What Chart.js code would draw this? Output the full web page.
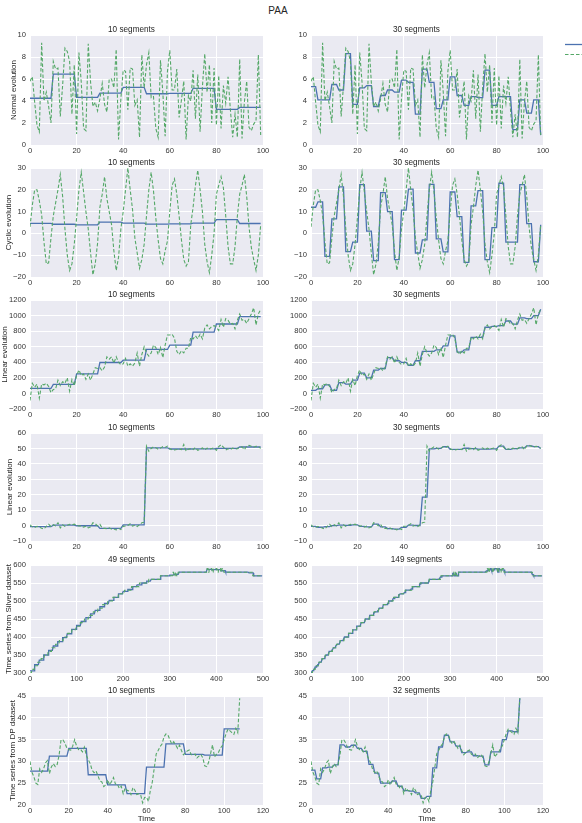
<!DOCTYPE html>
<html>
<head>
<meta charset="utf-8">
<script src="https://cdn.jsdelivr.net/npm/chart.js@4.4.1/dist/chart.umd.min.js"></script>
<style>
  body { margin: 0; background: #fff; width: 582px; height: 823px; position: relative; overflow: hidden; font-family: "Liberation Sans", Arial, sans-serif; }
  #title { position: absolute; left: 0; width: 556px; top: 4.5px; line-height: 12px; text-align: center; font-size: 10px; color: #262626; }
  canvas { position: absolute; }
</style>
</head>
<body>
<div id="title">PAA</div>
<script>
// raw series
const normalRaw = [
  5.8, 6.2, 3.9, 1.8, 1.2, 9.3, 4.0, 4.8, 3.5, 2.0,
  7.6, 6.9, 7.0, 2.6, 5.4, 8.8, 8.5, 7.6, 2.8, 7.3,
  1.0, 8.4, 5.7, 1.5, 1.3, 9.2, 5.7, 3.5, 3.9, 3.1,
  4.2, 5.6, 3.7, 3.0, 6.0, 6.0, 5.2, 8.7, 0.5, 4.2,
  6.8, 6.7, 3.2, 7.0, 6.9, 3.6, 4.1, 0.7, 8.2, 5.2,
  7.3, 8.4, 4.3, 4.4, 1.5, 0.7, 7.7, 4.8, 0.8, 6.7,
  8.6, 5.0, 5.0, 6.9, 2.5, 4.1, 5.8, 0.5, 4.5, 4.0,
  6.8, 2.4, 6.4, 1.2, 5.3, 8.3, 4.8, 7.3, 2.0, 7.0,
  1.8, 6.3, 1.5, 5.4, 3.8, 6.2, 3.2, 0.7, 2.8, 0.7,
  7.8, 0.6, 3.9, 5.8, 1.6, 1.3, 1.9, 2.2, 8.2, 0.9
];
const cyclicRaw = [
  3, 13, 20, 20, 15, 8.5, -4, -14, -13.5, -2,
  8, 14, 20, 27, 17, 2, -10, -17, -14, -5,
  7, 20, 28, 19, 10, 2, -9, -19, -14, -4.5,
  12, 18, 26, 16, 10, 4, -8, -17, -11, 2,
  10, 20, 30, 20, 11, -2, -9, -16, -12, -5,
  8, 20, 28, 19.5, 7, -3, -11.5, -14, -8, -3.5,
  10, 22, 25, 18, 8, -3, -12, -15, -13, 4,
  12, 22, 29, 20, 10, -5, -13, -18, -10, 0,
  18, 22, 26, 21, 8, -6, -14, -14, -6, 8,
  18, 22, 27, 17, 3, -6.5, -12, -17, -10, 4
];
const linearRaw = [
  -90, 130, 80, 120, -60, 120, 110, 130, 90, 10,
  50, 60, 170, 100, 150, 130, 200, 30, 180, 100,
  230, 300, 230, 250, 180, 250, 170, 250, 330, 320,
  330, 290, 340, 470, 440, 470, 390, 470, 400, 370,
  380, 450, 350, 380, 350, 390, 520, 350, 500, 600,
  520, 480, 520, 620, 590, 500, 590, 460, 620, 750,
  750, 760, 710, 540, 500, 550, 520, 580, 580, 720,
  700, 740, 700, 760, 700, 840, 880, 830, 860, 870,
  850, 810, 950, 850, 960, 940, 890, 900, 830, 940,
  1020, 940, 950, 900, 960, 1020, 1100, 880, 1020, 1080
];
const jumpRaw = [
  0.5, -0.8, -1.2, -0.5, -1.0, -1.8, -2.2, -0.5, 0.8, -0.6,
  0.6, -0.2, 1.8, -1.5, 0.5, -0.5, 0.2, 0.8, 0.4, 0.9,
  0.2, -0.3, -0.2, -1.0, -0.4, -1.5, -0.8, 1.8, 1.2, -0.2,
  0.8, -1.6, -1.8, -2.0, -1.5, -2.4, -2.2, -2.8, -1.8, -2.6,
  -0.5, -0.3, 0.1, 1.2, -0.4, 0.2, -0.6, 0.5, 1.8, 2.2,
  51.5, 48.2, 50.0, 51.0, 50.5, 49.5, 50.2, 51.2, 50.6, 51.5,
  49.8, 49.2, 49.0, 49.3, 49.6, 49.2, 52.5, 48.3, 49.5, 50.0,
  49.2, 50.6, 48.8, 49.5, 50.4, 49.0, 50.2, 49.5, 50.0, 50.3,
  48.8, 51.2, 52.4, 50.8, 49.0, 49.8, 49.3, 50.2, 49.6, 49.8,
  50.8, 51.0, 49.2, 51.6, 52.0, 51.4, 50.8, 51.4, 51.2, 50.0
];
// silver series is a staircase: level and how many samples it holds
const silverLevels = [300, 310, 320, 330, 340, 350, 360, 370, 380, 390, 400, 410, 420, 430,
  440, 450, 460, 470, 480, 490, 500, 510, 520, 530, 540, 550, 560, 570,
  580, 570, 580, 570, 580, 590, 580, 590, 580, 590, 580, 590, 580, 590, 580, 570];
const silverRuns = [4, 6, 7, 7, 7, 8, 8, 8, 8, 9, 9, 9, 9, 9,
  9, 9, 10, 10, 10, 11, 11, 12, 13, 15, 17, 20, 25, 27,
  2, 3, 2, 4, 62, 3, 2, 6, 3, 8, 3, 5, 2, 4, 62, 22];
const dpRaw = [
  30, 27.5, 26.5, 25, 24.7, 28.3, 27.5, 28.3, 29.7, 30.2,
  27.2, 28.7, 29.5, 28.8, 29.3, 31.5, 35, 34.9, 34.2, 33,
  32.7, 32.6, 33.5, 35, 33.5, 32.7, 32.8, 32.2, 33.3, 31.4,
  30.4, 29.5, 28, 27.4, 27.8, 26.7, 25.5, 25.3, 24.2, 24.6,
  25.8, 24.6, 25.4, 26.3, 24.8, 24.8, 23.8, 24.3, 22.6, 23.9,
  23.4, 23.2, 22.4, 24, 23.4, 22.4, 22.6, 22.3, 20.5, 21.7,
  21.8, 20.8, 23.4, 25.3, 28.5, 31.7, 32.5, 33.4, 34, 35.6,
  36.3, 36.1, 35, 34, 34.5, 33.8, 33, 33.7, 32.5, 31.5,
  32, 32.4, 32.6, 31.6, 31.4, 31.7, 30.8, 31.2, 31.6, 30.8,
  29, 28.8, 29.8, 31.8, 33.8, 31, 31.6, 32, 33, 33.6,
  35, 36.4, 37.4, 37, 36.6, 36.2, 37.6, 36.6, 44.5
];

const segmentCounts = [[10, 30], [10, 30], [10, 30], [10, 30], [49, 149], [10, 32]];
const yLabels = ["Normal evolution", "Cyclic evolution", "Linear evolution", "Linear evolution",
  "Time series from Silver dataset", "Time series from DP dataset"];
// [min, max, step]
const yTicks = [[0, 10, 2], [-20, 30, 10], [-200, 1200, 200], [-10, 60, 10], [300, 600, 50], [20, 45, 5]];
const xTicks = [[0, 100, 20], [0, 100, 20], [0, 100, 20], [0, 100, 20], [0, 500, 100], [0, 120, 20]];

const BLUE = "#4C72B0";
const GREEN = "#55A868";

function expandRuns(levels, runs) {
  const out = [];
  levels.forEach((lv, i) => { for (let k = 0; k < runs[i]; k++) out.push(lv); });
  return out;
}
const silverRaw = expandRuns(silverLevels, silverRuns);
const rawSeries = [normalRaw, cyclicRaw, linearRaw, jumpRaw, silverRaw, dpRaw];

// piecewise aggregate: each window of w points replaced by its mean
function paa(raw, segments) {
  const w = Math.floor(raw.length / segments);
  const out = [];
  for (let i = 0; i < raw.length; i += w) {
    const seg = raw.slice(i, i + w);
    const m = seg.reduce((a, b) => a + b, 0) / seg.length;
    seg.forEach(() => out.push(m));
  }
  return out;
}

const toPoints = arr => arr.map((v, i) => ({ x: i, y: v }));
const fmt = v => (v < 0 ? "\u2212" + Math.abs(v) : String(v));

Chart.defaults.font.family = "'Liberation Sans', Arial, sans-serif";
Chart.defaults.color = "#262626";

const bgPlugin = {
  id: "bg",
  beforeDraw(chart) {
    const { ctx, chartArea: a } = chart;
    ctx.save();
    ctx.fillStyle = "#EAEAF2";
    ctx.fillRect(a.left, a.top, a.right - a.left, a.bottom - a.top);
    ctx.restore();
  }
};

const legendPlugin = {
  id: "sideLegend",
  afterDraw(chart) {
    const ctx = chart.ctx;
    ctx.save();
    ctx.lineWidth = 1.3;
    ctx.strokeStyle = BLUE;
    ctx.beginPath(); ctx.moveTo(275, 27.5); ctx.lineTo(292, 27.5); ctx.stroke();
    ctx.strokeStyle = GREEN;
    ctx.lineWidth = 1.1;
    ctx.setLineDash([3.5, 2]);
    ctx.beginPath(); ctx.moveTo(275, 37.5); ctx.lineTo(292, 37.5); ctx.stroke();
    ctx.restore();
  }
};

const rowTops = [35, 168, 300, 433, 565, 696];
const rowBottoms = [145, 277, 409, 541, 673, 805];
const labelPad = [9.2, 4.2, 0.2, 5.2, 4.2, 7.9];

rawSeries.forEach((raw, r) => {
  [0, 1].forEach(c => {
    const segs = segmentCounts[r][c];
    const last = r === 5;
    const W = c === 0 ? 290 : 292;
    const yW = c === 0 ? 30 : 21;
    const padR = c === 0 ? 27 : 39;
    const xH = last ? 18 : 14;
    const top = rowTops[r] - 18;
    const H = rowBottoms[r] + xH - top;

    const canvas = document.createElement("canvas");
    canvas.width = W;
    canvas.height = H;
    canvas.style.left = (c === 0 ? 0 : 290) + "px";
    canvas.style.top = top + "px";
    canvas.style.width = W + "px";
    canvas.style.height = H + "px";
    document.body.appendChild(canvas);

    const [ymin, ymax, ystep] = yTicks[r];
    const [xmin, xmax, xstep] = xTicks[r];

    new Chart(canvas.getContext("2d"), {
      type: "line",
      data: {
        datasets: [
          {
            data: toPoints(raw),
            borderColor: GREEN,
            borderWidth: 1.1,
            borderDash: [3.5, 2],
            pointRadius: 0,
            tension: 0
          },
          {
            data: toPoints(paa(raw, segs)),
            borderColor: BLUE,
            borderWidth: 1.3,
            pointRadius: 0,
            tension: 0
          }
        ]
      },
      options: {
        responsive: false,
        devicePixelRatio: 1,
        animation: false,
        events: [],
        layout: { padding: { left: 0, right: padR, top: 0, bottom: 0 } },
        plugins: {
          legend: { display: false },
          tooltip: { enabled: false },
          title: {
            display: true,
            text: segs + " segments",
            font: { size: 8.2, weight: "normal" },
            color: "#262626",
            padding: { top: 8.16, bottom: 0 }
          }
        },
        scales: {
          x: {
            type: "linear",
            min: xmin, max: xmax,
            border: { display: false },
            grid: { color: "#ffffff", lineWidth: 1, drawTicks: false },
            ticks: { stepSize: xstep, padding: 1, font: { size: 7.6 }, color: "#333", maxRotation: 0, callback: fmt },
            title: { display: last, text: "Time", font: { size: 8 }, color: "#262626", padding: { top: 0, bottom: -1 } },
            afterFit(scale) { scale.height = xH; }
          },
          y: {
            min: ymin, max: ymax,
            border: { display: false },
            grid: { color: "#ffffff", lineWidth: 1, drawTicks: false },
            ticks: { stepSize: ystep, padding: 4, font: { size: 7.6 }, color: "#333", callback: fmt },
            title: { display: c === 0, text: yLabels[r], font: { size: 8 }, color: "#262626", padding: { top: labelPad[r] } },
            afterFit(scale) { scale.width = yW; }
          }
        }
      },
      plugins: r === 0 && c === 1 ? [bgPlugin, legendPlugin] : [bgPlugin]
    });
  });
});
</script>
</body>
</html>
